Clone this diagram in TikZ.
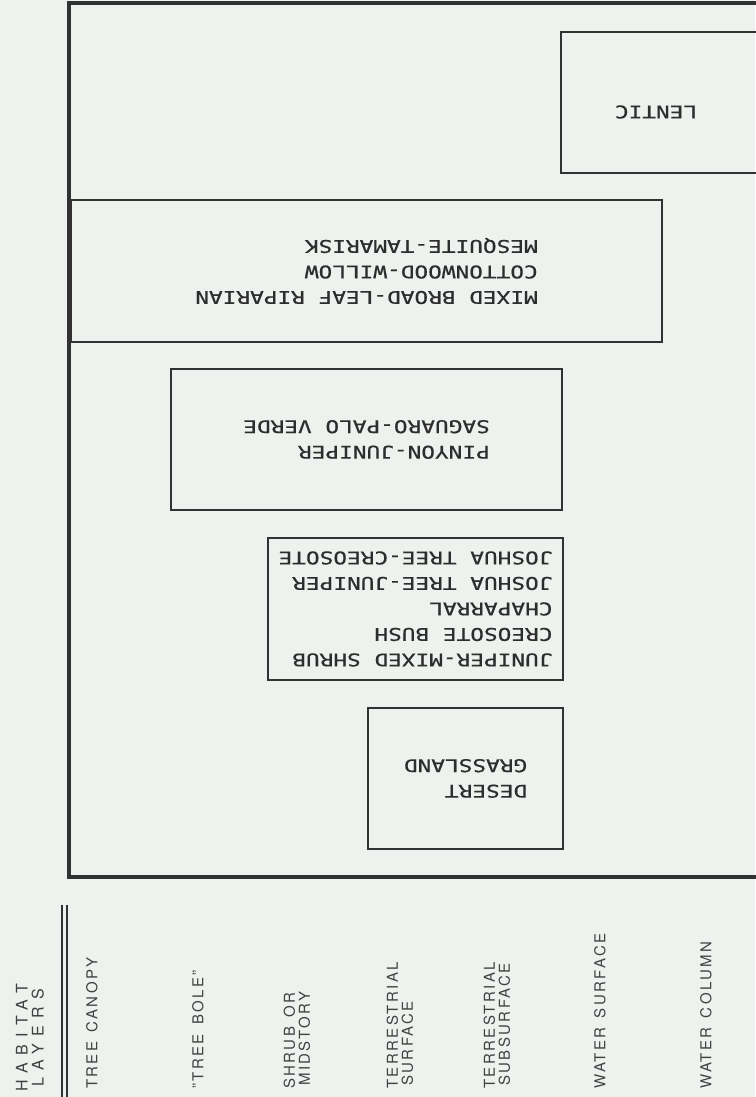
\documentclass[tikz,border=0pt]{standalone}
\usepackage{fontspec}
\newfontfamily\typew[FakeStretch=1.3,FakeBold=0.6]{DejaVu Sans Mono}
\newfontfamily\labelf[LetterSpace=16,WordSpace=1.4]{TeX Gyre Heros}
\newfontfamily\headf[LetterSpace=45]{TeX Gyre Heros}
\definecolor{bgc}{RGB}{237,242,238}
\definecolor{ink}{RGB}{50,50,50}
\definecolor{txt}{RGB}{45,45,45}
\definecolor{ltxt}{RGB}{65,65,65}
\tikzset{
  frameline/.style={draw=ink, line width=4pt},
  habbox/.style={draw=ink, line width=2.4pt, rectangle, inner sep=0pt, rotate=180,
    align=left, text=txt, font=\typew\fontsize{17.5}{25.5}\selectfont},
  habtext/.style={inner sep=0pt, rotate=180, align=left, text=txt,
    font=\typew\fontsize{17.5}{25.5}\selectfont},
  layer/.style={inner sep=0pt, rotate=90, anchor=west, align=left, text=ltxt,
    font=\labelf\fontsize{15}{15}\selectfont},
  dline/.style={draw=ink, line width=1.3pt}
}
\begin{document}
\begin{tikzpicture}[x=1pt,y=1pt]
\useasboundingbox (0,0) rectangle (755,1097);
\fill[bgc] (0,0) rectangle (755,1097);
% outer frame (open to the right)
\coordinate (ftr) at (765,1094);
\coordinate (ftl) at (69,1094);
\coordinate (fbl) at (69,220);
\coordinate (fbr) at (765,220);
\draw[frameline] (ftr) -- (ftl) -- (fbl) -- (fbr);
% lentic box (open to the right)
\coordinate (ltr) at (765,1065);
\coordinate (ltl) at (561,1065);
\coordinate (lbl) at (561,924);
\coordinate (lbr) at (765,924);
\draw[draw=ink, line width=2.4pt] (ltr) -- (ltl) -- (lbl) -- (lbr);
\node[habtext] (lentic) at (656,985) {LENTIC};
% habitat boxes
\node[habbox, minimum width=591pt, minimum height=142pt] (riparian) at (366.5,826)
  {MIXED BROAD-LEAF RIPARIAN\\COTTONWOOD-WILLOW\\MESQUITE-TAMARISK};
\node[habbox, minimum width=391pt, minimum height=141pt] (pinyon) at (366.5,657.5)
  {PINYON-JUNIPER\\SAGUARO-PALO VERDE};
\node[habbox, minimum width=295pt, minimum height=142pt] (chaparral) at (415.5,488)
  {JUNIPER-MIXED SHRUB\\CREOSOTE BUSH\\CHAPARRAL\\JOSHUA TREE-JUNIPER\\JOSHUA TREE-CREOSOTE};
\node[habbox, minimum width=195pt, minimum height=141pt] (desert) at (465.5,318.5)
  {DESERT\\GRASSLAND};
% double rule
\coordinate (d1t) at (62,192);
\coordinate (d1b) at (62,0);
\coordinate (d2t) at (67,192);
\coordinate (d2b) at (67,0);
\draw[dline] (d1t) -- (d1b);
\draw[dline] (d2t) -- (d2b);
% layer labels
\node[layer, align=center, font=\headf\fontsize{16}{16}\selectfont] (hab) at (30,5) {HABITAT\\LAYERS};
\node[layer] (canopy) at (92,8) {TREE CANOPY};
\node[layer] (bole) at (198,8) {\char"201D TREE BOLE\char"201D};
\node[layer] (shrub) at (297,8) {SHRUB OR\\\hspace*{3pt}MIDSTORY};
\node[layer] (tsurf) at (400,8) {TERRESTRIAL\\\hspace*{3pt}SURFACE};
\node[layer] (tsub) at (497,8) {TERRESTRIAL\\\hspace*{3pt}SUBSURFACE};
\node[layer] (wsurf) at (600,8) {WATER SURFACE};
\node[layer] (wcol) at (706,8) {WATER COLUMN};
\end{tikzpicture}
\end{document}
